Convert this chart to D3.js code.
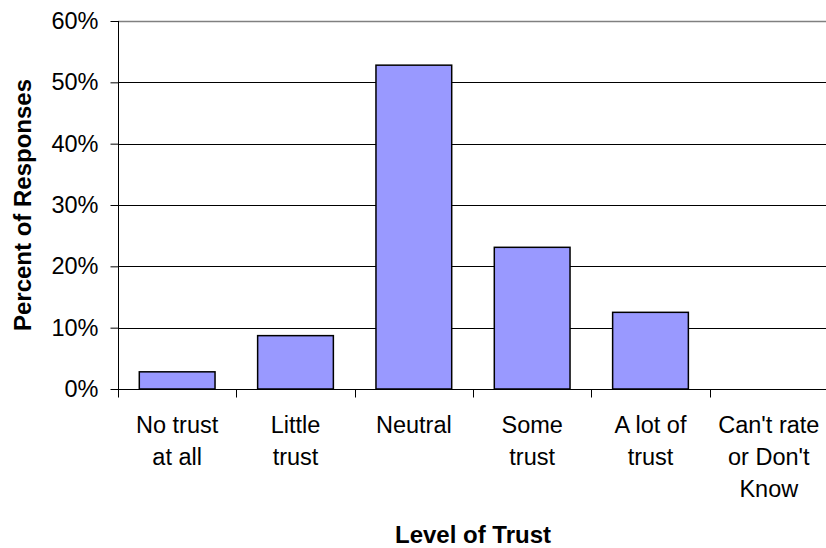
<!DOCTYPE html>
<html>
<head>
<meta charset="utf-8">
<script src="https://cdn.jsdelivr.net/npm/d3@7"></script>
<style>
  body { margin: 0; background: #fff; }
  svg { display: block; font-family: "Liberation Sans", Arial, sans-serif; }
</style>
</head>
<body>
<main></main>
<script>
const w = 826;
const h = 548;
const margin = { left: 118, top: 21, right: -2, bottom: 159 };
const fontSize = 23.5;

const categories = ["No trust|at all", "Little|trust", "Neutral", "Some|trust", "A lot of|trust", "Can't rate|or Don't|Know"];
const percents = [2.8, 8.7, 52.8, 23.1, 12.5, 0];
const yTicks = [0, 10, 20, 30, 40, 50, 60];

const xScale = d3.scaleBand()
    .domain(categories)
    .range([margin.left, w - margin.right])
    .paddingInner(0.36)
    .paddingOuter(0.18);

const yScale = d3.scaleLinear()
    .domain([0, 60])
    .range([h - margin.bottom, margin.top]);

const svg = d3.select("main")
    .append("svg")
    .attr("width", w)
    .attr("height", h);

// gridlines
svg.append("g")
    .selectAll("line")
    .data(yTicks.filter(d => d > 0))
    .enter()
    .append("line")
    .attr("x1", margin.left)
    .attr("x2", w - margin.right)
    .attr("y1", d => Math.round(yScale(d)) + 0.5)
    .attr("y2", d => Math.round(yScale(d)) + 0.5)
    .attr("stroke", d => d === 60 ? "#808080" : "#000")
    .attr("stroke-width", d => d === 60 ? 1.5 : 1);

// bars
svg.selectAll("rect.bar")
    .data(percents)
    .enter()
    .append("rect")
    .attr("class", "bar")
    .attr("x", (d, i) => xScale(categories[i]))
    .attr("y", d => yScale(d))
    .attr("width", xScale.bandwidth())
    .attr("height", d => yScale(0) - yScale(d))
    .attr("fill", "#9999ff")
    .attr("stroke", d => d > 0 ? "#000" : "none")
    .attr("stroke-width", 1.5);

// y axis
const yAxis = d3.axisLeft(yScale)
    .tickValues(yTicks)
    .tickFormat(d => d + "%")
    .tickSize(8)
    .tickPadding(12);

const yg = svg.append("g")
    .attr("transform", "translate(" + (margin.left + 0.5) + ",0)")
    .call(yAxis);
yg.select(".domain").attr("d", "M0," + yScale(0) + "V" + yScale(60)).attr("stroke", "#000");
yg.selectAll(".tick line").attr("stroke", "#000");
yg.selectAll(".tick text")
    .attr("font-size", fontSize)
    .attr("font-family", "Liberation Sans, Arial, sans-serif")
    .attr("fill", "#000");

// x axis
const xg = svg.append("g")
    .attr("transform", "translate(0," + (Math.round(yScale(0)) + 0.5) + ")");
xg.append("line")
    .attr("x1", margin.left)
    .attr("x2", w - margin.right)
    .attr("stroke", "#000");
const step = xScale.step();
xg.selectAll("line.tick")
    .data(d3.range(categories.length + 1))
    .enter()
    .append("line")
    .attr("class", "tick")
    .attr("x1", i => Math.round(margin.left + i * step) + 0.5)
    .attr("x2", i => Math.round(margin.left + i * step) + 0.5)
    .attr("y1", 0)
    .attr("y2", 8)
    .attr("stroke", "#000");

const labels = xg.selectAll("text.cat")
    .data(categories)
    .enter()
    .append("text")
    .attr("class", "cat")
    .attr("text-anchor", "middle")
    .attr("font-size", fontSize)
    .attr("fill", "#000");
labels.each(function (d) {
    const cx = xScale(d) + xScale.bandwidth() / 2;
    d.split("|").forEach((line, j) => {
        d3.select(this).append("tspan")
            .attr("x", cx)
            .attr("y", 43 + j * 32)
            .text(line);
    });
});

// axis titles
svg.append("text")
    .attr("x", margin.left + (w - margin.right - margin.left) / 2)
    .attr("y", 543)
    .attr("text-anchor", "middle")
    .attr("font-size", 24)
    .attr("font-weight", "bold")
    .text("Level of Trust");

svg.append("text")
    .attr("transform", "translate(31," + ((yScale(0) + yScale(60)) / 2) + ") rotate(-90)")
    .attr("text-anchor", "middle")
    .attr("font-size", 24)
    .attr("font-weight", "bold")
    .text("Percent of Responses");
</script>
</body>
</html>
